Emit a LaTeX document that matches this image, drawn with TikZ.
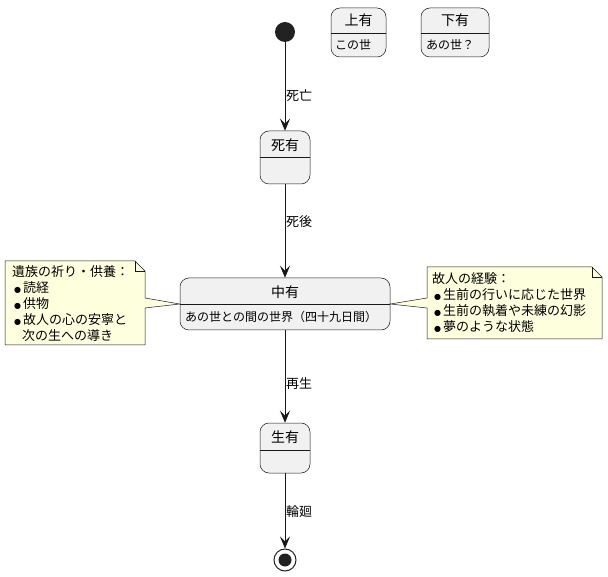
\documentclass[tikz,border=0pt]{standalone}
\usepackage{fontspec}
\setmainfont{Noto Sans CJK JP}
\newfontfamily\dejavu{DejaVu Sans}
\usetikzlibrary{arrows.meta,calc}
\definecolor{stfill}{HTML}{F1F1F1}
\definecolor{stline}{HTML}{181818}
\definecolor{notefill}{HTML}{FEFFDD}
\definecolor{dark}{HTML}{222222}
\newcommand{\mybul}{\hspace*{2pt}{\dejavu\fontsize{8}{8}\selectfont ●}\hspace*{2pt}}
\tikzset{
  stbox/.style={draw=stline, fill=stfill, rounded corners=9pt, line width=0.5pt, inner sep=0pt},
  sttitle/.style={font=\fontsize{14}{16}\selectfont, inner sep=0pt, anchor=center},
  stbody/.style={font=\fontsize{12}{14}\selectfont, inner sep=0pt, anchor=west},
  conn/.style={draw=stline, line width=0.8pt, -{Stealth[length=12pt,width=10pt,inset=5pt]}},
  elabel/.style={font=\fontsize{13}{15}\selectfont, inner sep=0pt, anchor=west},
  notebody/.style={draw=stline, fill=notefill, line width=0.5pt},
  notetext/.style={font=\fontsize{13}{16}\selectfont, inner sep=0pt, anchor=north west, align=left},
}
\begin{document}
\begin{tikzpicture}[x=1pt,y=-1pt]
\useasboundingbox (0,0) rectangle (608,577);
% start
\node[circle, fill=dark, minimum size=20pt, inner sep=0pt] (start) at (285,32) {};
% 上有
\node[stbox, minimum width=55pt, minimum height=49pt] (jou) at (358.5,32.5) {};
\draw[stline, line width=0.5pt] (jou.west |- 0,33) -- (jou.east |- 0,33);
\node[sttitle] (joutitle) at (358.5,20) {上有};
\node[stbody] (joubody) at (335,45) {この世};
% 下有
\node[stbox, minimum width=68pt, minimum height=49pt] (ge) at (455,32.5) {};
\draw[stline, line width=0.5pt] (ge.west |- 0,33) -- (ge.east |- 0,33);
\node[sttitle] (getitle) at (455,20) {下有};
\node[stbody] (gebody) at (426,45) {あの世？};
% 死有
\node[stbox, minimum width=50pt, minimum height=53pt] (shiu) at (285,157.5) {};
\draw[stline, line width=0.5pt] (shiu.west |- 0,157) -- (shiu.east |- 0,157);
\node[sttitle] (shiutitle) at (285,145) {死有};
% 中有
\node[stbox, minimum width=210pt, minimum height=52pt] (chuu) at (285,304) {};
\draw[stline, line width=0.5pt] (chuu.west |- 0,304) -- (chuu.east |- 0,304);
\node[sttitle] (chuutitle) at (285,292) {中有};
\node[stbody] (chuubody) at (185,317) {あの世との間の世界（四十九日間）};
% 生有
\node[stbox, minimum width=50pt, minimum height=50pt] (shou) at (285,448) {};
\draw[stline, line width=0.5pt] (shou.west |- 0,450) -- (shou.east |- 0,450);
\node[sttitle] (shoutitle) at (285,437) {生有};
% end
\node[circle, draw=dark, fill=white, line width=1pt, minimum size=22pt, inner sep=0pt] (endo) at (285,560) {};
\node[circle, fill=dark, minimum size=13pt, inner sep=0pt] (endi) at (285,560) {};
% connectors
\draw[conn] (start.south) -- (shiu.north);
\draw[conn] (shiu.south) -- (chuu.north);
\draw[conn] (chuu.south) -- (shou.north);
\draw[conn] (shou.south) -- (endo.north);
\node[elabel] (l1) at (286,96) {死亡};
\node[elabel] (l2) at (286,222) {死後};
\node[elabel] (l3) at (286,384) {再生};
\node[elabel] (l4) at (286,512) {輪廻};
% left note
\coordinate (lnA) at (5,261);
\coordinate (lnB) at (135,261);
\coordinate (lnC) at (145,271);
\coordinate (lnD) at (145,345);
\coordinate (lnE) at (5,345);
\coordinate (lnP1) at (145,298);
\coordinate (lnP2) at (145,308);
\draw[notebody] (lnA) -- (lnB) -- (lnC) -- (lnP1) -- (chuu.west) -- (lnP2) -- (lnD) -- (lnE) -- cycle;
\draw[stline, line width=0.5pt] (lnB) -- (135,271) -- (lnC);
\node[notetext] (lnote) at (12,265) {遺族の祈り・供養：\\\mybul 読経\\\mybul 供物\\\mybul 故人の心の安寧と\\\hspace*{10pt}次の生への導き};
% right note
\coordinate (rnA) at (427,267);
\coordinate (rnB) at (592,267);
\coordinate (rnC) at (602,277);
\coordinate (rnD) at (602,339);
\coordinate (rnE) at (427,339);
\coordinate (rnP1) at (427,298);
\coordinate (rnP2) at (427,308);
\draw[notebody] (rnA) -- (rnB) -- (rnC) -- (rnD) -- (rnE) -- (rnP2) -- (chuu.east) -- (rnP1) -- cycle;
\draw[stline, line width=0.5pt] (rnB) -- (592,277) -- (rnC);
\node[notetext] (rnote) at (432,272) {故人の経験：\\\mybul 生前の行いに応じた世界\\\mybul 生前の執着や未練の幻影\\\mybul 夢のような状態};
\end{tikzpicture}
\end{document}
